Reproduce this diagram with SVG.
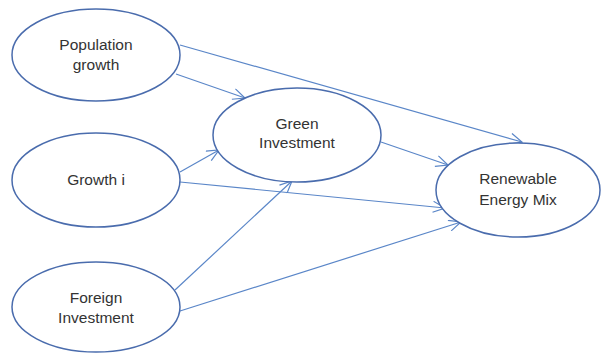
<svg xmlns="http://www.w3.org/2000/svg" width="602" height="354" viewBox="0 0 602 354">
<style>
.node ellipse{fill:#fff;stroke:#4a6cad;stroke-width:1.5}
.node text{font-family:"Liberation Sans",Arial,sans-serif;font-size:15.5px;fill:#333;text-anchor:middle}
.edges line{stroke:#5a86c8;stroke-width:1.2}
</style>
<defs>
<marker id="arr" viewBox="0 0 14 12" refX="13" refY="6" markerWidth="14" markerHeight="12" markerUnits="userSpaceOnUse" orient="auto">
<path d="M1,0.5 L13,6 L1,11.5" fill="none" stroke="#5a86c8" stroke-width="1.2"/>
</marker>
</defs>
<rect width="602" height="354" fill="#fff"/>
<g class="edges">
<line x1="180" y1="45" x2="522" y2="142" marker-end="url(#arr)"/>
<line x1="176" y1="74" x2="245" y2="98" marker-end="url(#arr)"/>
<line x1="180" y1="172" x2="219" y2="150" marker-end="url(#arr)"/>
<line x1="381" y1="142" x2="448" y2="165" marker-end="url(#arr)"/>
<line x1="180" y1="182" x2="445" y2="208" marker-end="url(#arr)"/>
<line x1="175" y1="290" x2="292" y2="181" marker-end="url(#arr)"/>
<line x1="180" y1="311" x2="461" y2="222" marker-end="url(#arr)"/>
</g>
<g id="population" class="node">
<ellipse cx="96" cy="55" rx="84" ry="46"/>
<text x="96" y="50">Population</text>
<text x="96" y="70">growth</text>
</g>
<g id="growth" class="node">
<ellipse cx="96" cy="180" rx="84" ry="47"/>
<text x="96" y="185">Growth i</text>
</g>
<g id="foreign" class="node">
<ellipse cx="96" cy="307" rx="84" ry="45"/>
<text x="96" y="303">Foreign</text>
<text x="96" y="323">Investment</text>
</g>
<g id="green" class="node">
<ellipse cx="297" cy="135" rx="84" ry="47"/>
<text x="297" y="129">Green</text>
<text x="297" y="148">Investment</text>
</g>
<g id="renewable" class="node">
<ellipse cx="518" cy="190" rx="82" ry="47"/>
<text x="518" y="184">Renewable</text>
<text x="518" y="205">Energy Mix</text>
</g>
</svg>
